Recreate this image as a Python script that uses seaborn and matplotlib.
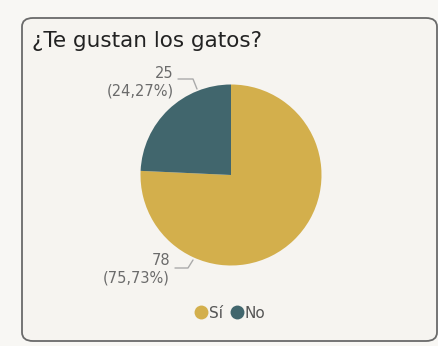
import matplotlib
matplotlib.use("Agg")
import matplotlib.pyplot as plt
from matplotlib.patches import FancyBboxPatch
from matplotlib.lines import Line2D
import seaborn as sns

title = "¿Te gustan los gatos?"
categories = ["Sí", "No"]
values = [78, 25]
percent_labels = ["75,73%", "24,27%"]
colors = ["#D3AF4C", "#41666D"]

sns.set_theme(style="white")
plt.rcParams['font.family'] = ['DejaVu Sans']

W, H = 439, 346
fig = plt.figure(figsize=(W / 100, H / 100), dpi=100)
fig.patch.set_facecolor("#f8f7f4")

# card
card = FancyBboxPatch((22 / W, (H - 341) / H), (437 - 22) / W, (341 - 18) / H,
                      boxstyle="round,pad=0,rounding_size=0.025",
                      transform=fig.transFigure, facecolor="#f6f4f0",
                      edgecolor="#6a6a6a", linewidth=1.3, zorder=-5)
fig.patches.append(card)

fig.text(32 / W, 1 - 47 / H, title, fontsize=15.5, color="#222222",
         ha="left", va="baseline")

cx, cy, r = 231, 175, 90.5
ax = fig.add_axes([(cx - r) / W, (H - cy - r) / H, 2 * r / W, 2 * r / H])
ax.set_zorder(2)
ax.set_facecolor("none")
wedges, _ = ax.pie(values, colors=colors, startangle=90, counterclock=False,
                   radius=1, wedgeprops=dict(linewidth=0))
ax.set_xlim(-1, 1)
ax.set_ylim(-1, 1)
ax.set_aspect("equal")
ax.axis("off")

def px(x, y):
    return ((x - cx) / r, (cy - y) / r)

lab_color = "#6b6b6b"
# No label
txt_no = f"{values[1]}\n({percent_labels[1]})"
ax.text(*px(174, 82), txt_no, ha="right", va="center", fontsize=10.5,
        color=lab_color, linespacing=1.2, multialignment="right")
xs, ys = zip(px(178, 79), px(193, 79), px(197, 89))
ax.plot(xs, ys, color="#aaaaaa", lw=1, clip_on=False)
# Sí label
txt_si = f"{values[0]}\n({percent_labels[0]})"
ax.text(*px(170, 269), txt_si, ha="right", va="center", fontsize=10.5,
        color=lab_color, linespacing=1.2, multialignment="right")
xs, ys = zip(px(175, 268), px(188, 268), px(193, 260))
ax.plot(xs, ys, color="#aaaaaa", lw=1, clip_on=False)

# legend
handles = [Line2D([], [], marker="o", linestyle="", markersize=10,
                  markerfacecolor=c, markeredgewidth=0) for c in colors]
fig.legend(handles, categories, loc="center", bbox_to_anchor=(230 / W, 1 - 313 / H),
           ncol=2, frameon=False, fontsize=11, labelcolor="#555555",
           handletextpad=0.05, columnspacing=0.5, handlelength=0.9)

fig.savefig("out.png", dpi=100, facecolor=fig.get_facecolor())
